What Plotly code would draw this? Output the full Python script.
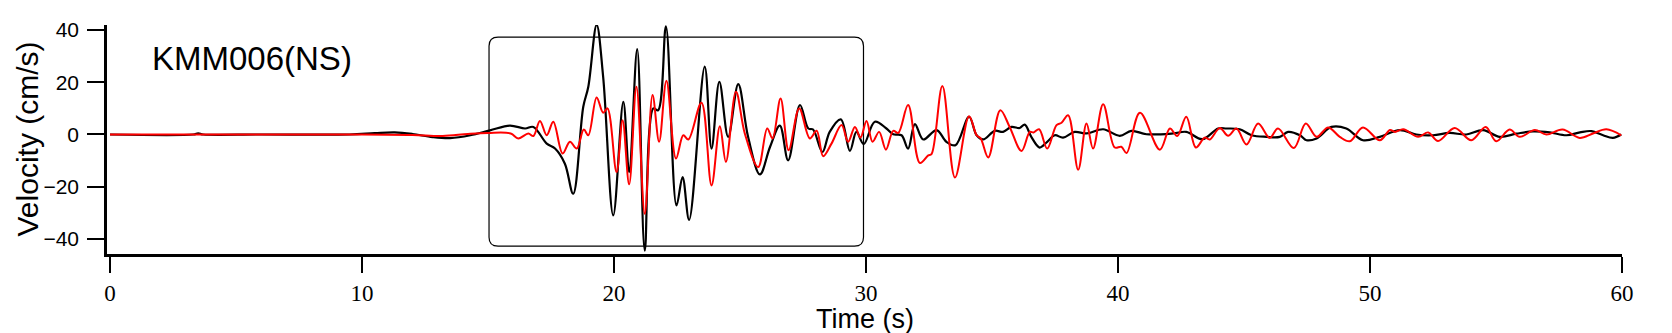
import plotly.graph_objects as go

# ---- data ----
ns_t = [0, 3.3, 3.5, 3.7, 6, 9.5, 10.5, 11.3, 12, 12.8, 13.5, 14.3, 15.08, 15.87, 16.47, 16.8,
        17.33, 17.66, 18.05, 18.38, 18.78, 18.98, 19.31, 19.57, 19.97, 20.37, 20.6, 20.92, 21.22,
        21.56, 21.75, 22.06, 22.48, 22.72, 22.98, 23.6, 23.87, 24.18, 24.53, 24.93, 25.32, 25.79,
        26.19, 26.58, 26.91, 27.38, 27.71, 27.9, 28.27, 28.56, 29.0, 29.36, 29.62, 29.91, 30.35,
        30.81, 31.08, 31.41, 31.67, 31.94, 32.27, 32.8, 33.19, 33.55, 34.09, 34.39, 34.65, 35.11,
        35.44, 35.77, 36.1, 36.3, 36.56, 36.89, 37.19, 37.49, 37.82, 38.28, 38.75, 39.41, 40.07,
        40.53, 41.13, 42.19, 42.71, 43.35, 43.97, 44.3, 44.83, 45.3, 45.89, 46.42, 46.75, 47.22,
        47.48, 47.88, 48.47, 49.06, 49.72, 50.39, 51.18, 51.84, 52.5, 53.16, 53.82, 54.49, 55.15,
        55.81, 56.47, 57.13, 57.8, 58.33, 58.79, 59.25, 59.64, 59.97]
ns_v = [0, 0, 0.4, 0, 0, 0, 0.5, 0.8, 0.2, -1.0, -1.4, -0.3, 1.6, 3.4, 2.3, 2.9,
        -3.5, -5.4, -11.2, -22.7, 10.6, 18.3, 42, 22, -31, 12.5, -14.4, 32.7, -44.5,
        10, 9.3, 41.4, -27.2, -16.3, -32.7, 26, -5.4, 20.2, -0.9, 19.3, -0.9, -15.3,
        -4.8, 3.4, -9.9, 11.3, 2.3, 1.9, -6.7, 1, 5.8, -6.3, 1, -3.7, 4.9,
        2.3, 0.1, -0.3, -5.4, 4, -1.9, 1.7, -2.8, -4.1, 6.8, -0.3, -1.9, 1.4,
        1, 2.9, 2.5, 3.8, -0.9, -5, -2.8, -0.3, -1.2, 1, 0.4, 2, -0.5,
        1.4, 0.1, 0.4, 1, -1.8, 2.3, 2.3, 2, -0.3, -0.9, -0.9, 1, -0.3,
        -2.2, -1.5, 2.9, 2.3, -2.2, -0.9, 1.7, 0, -0.3, 0.6, 0, 1.7, -0.9,
        0.3, 1.2, 0.8, -0.3, 0.8, 1.3, -0.3, -1.3, 0]

sim_t = [0, 6, 10, 12, 13.2, 14.2, 15, 15.9, 16.2, 16.6, 16.8, 17.06, 17.33, 17.59, 17.96,
         18.25, 18.52, 18.8, 18.98, 19.31, 19.57, 19.74, 20.1, 20.34, 20.6, 20.89, 21.22, 21.53,
         21.79, 22.08, 22.46, 22.75, 22.95, 23.47, 23.87, 24.2, 24.44, 24.84, 25.19, 25.72, 26.08,
         26.29, 26.61, 26.93, 27.35, 27.77, 28.04, 28.3, 28.63, 29.03, 29.29, 29.56, 29.78, 30.02,
         30.26, 30.52, 30.79, 31.08, 31.28, 31.67, 32.14, 32.47, 32.6, 33.03, 33.53, 34.09, 34.39,
         34.55, 34.85, 35.33, 35.7, 36.17, 36.5, 36.65, 36.87, 37.19, 37.56, 37.76, 38.02, 38.42,
         38.75, 39.01, 39.41, 39.87, 40.13, 40.34, 40.87, 41.66, 42.06, 42.35, 42.71, 43.09, 43.44,
         43.64, 44.04, 44.37, 44.7, 45.1, 45.56, 46.02, 46.35, 46.98, 47.45, 47.88, 48.34, 48.8,
         49.2, 49.72, 50.39, 50.79, 50.99, 51.32, 51.91, 52.31, 52.7, 53.36, 54.02, 54.59, 55.01,
         55.54, 55.94, 56.54, 57.0, 57.64, 58.32, 58.85, 59.38, 59.97]
sim_v = [0, 0, 0, -0.2, -0.6, 0.2, 0.6, 0.4, -1.5, 0.4, -0.6, 5.2, -0.3, 4.9, -7.3,
         -2.8, -5.4, 1.9, -0.3, 14.2, 8.3, 10, -14.4, 5.5, -19.1, 18.3, -30.4, 15.1,
         -2.8, 20.6, -9.2, -0.3, -1.9, 12.2, -19.5, 3.2, -10.5, 16.4, 0.4, -12.5, 2.3,
         -1.5, 13.8, -6, 10, -1.5, 1.4, -8.3, -3.5, 3.6, -2.8, 2.9, -1.2, 5.2,
         -2.8, 1, -5.8, 1.4, 0.6, 11.3, -10.9, -8, -7.5, 18.6, -16.5, 7, -0.3,
         -1.5, -8.8, 9.3, 2.9, -6.3, 1, 0.8, 2, -5.4, 3.6, 4.5, 7.4, -13.5,
         4.2, -5.4, 11.6, -5, -4.7, -7.1, 8.3, -5.8, 2.3, -0.6, 6.8, -5, -1.2,
         -1.9, 2.5, -0.5, 2.3, -3.8, 4.2, -1.3, 2.3, -5.2, 4.2, -0.9, 2.7, -0.9,
         -2.6, 2.7, -2.2, 1.7, 1, 2, -0.9, 0.8, -2.5, 2.5, -2.2, 2.9, -2.6,
         1.9, -0.9, 1.7, 0, 1.9, -1.3, 0.4, 2, -0.3]

x_ticks = [0, 10, 20, 30, 40, 50, 60]
y_ticks = [-40, -20, 0, 20, 40]
x_range = [-0.12, 60]
y_range = [-45.78, 41.94]
box_t = [15.04, 29.90]
box_v = [-42.8, 37.3]
station = "KMM006(NS)"

# page body has an 8px margin, so the figure is 8px smaller than the window
FIG_W, FIG_H = 1664, 325
M_L, M_R, M_T, M_B = 99, 50, 17, 79
plot_w = FIG_W - M_L - M_R
plot_h = FIG_H - M_T - M_B

# ---- figure ----
fig = go.Figure()
fig.add_trace(go.Scatter(x=ns_t, y=ns_v, mode="lines",
                         line=dict(color="black", width=2.2, shape="spline", smoothing=1.0),
                         showlegend=False))
fig.add_trace(go.Scatter(x=sim_t, y=sim_v, mode="lines",
                         line=dict(color="#ff0000", width=2, shape="spline", smoothing=1.0),
                         showlegend=False))

# rounded rectangle (corner radius ~9 px converted to data units)
px_per_t = plot_w / (x_range[1] - x_range[0])
px_per_v = plot_h / (y_range[1] - y_range[0])
rx = 9 / px_per_t
ry = 9 / px_per_v
x0, x1 = box_t
y0, y1 = box_v
path = (f"M {x0+rx},{y1} L {x1-rx},{y1} Q {x1},{y1} {x1},{y1-ry} "
        f"L {x1},{y0+ry} Q {x1},{y0} {x1-rx},{y0} L {x0+rx},{y0} "
        f"Q {x0},{y0} {x0},{y0+ry} L {x0},{y1-ry} Q {x0},{y1} {x0+rx},{y1} Z")
fig.add_shape(type="path", path=path, xref="x", yref="y",
              line=dict(color="black", width=1.2), fillcolor="rgba(0,0,0,0)", layer="below")

fig.update_layout(
    width=FIG_W, height=FIG_H,
    margin=dict(l=M_L, r=M_R, t=M_T, b=M_B, autoexpand=False),
    paper_bgcolor="white", plot_bgcolor="white",
    xaxis=dict(range=x_range, tickvals=x_ticks, ticks="outside", ticklen=16, tickwidth=2,
               tickcolor="black", showline=True, linecolor="black", linewidth=2.5,
               showgrid=False, zeroline=False, ticklabelstandoff=1, automargin=False,
               tickfont=dict(family="Liberation Serif", size=23, color="black")),
    yaxis=dict(range=y_range, tickvals=y_ticks, ticks="outside", ticklen=17, tickwidth=2,
               tickcolor="black", showline=True, linecolor="black", linewidth=2.5,
               showgrid=False, zeroline=False, ticklabelstandoff=4, automargin=False,
               tickfont=dict(family="Liberation Sans", size=21, color="black")),
    annotations=[
        dict(text=station, xref="paper", yref="paper", x=(142 - M_L) / plot_w,
             y=1 - (50 - M_T) / plot_h,
             xanchor="left", yanchor="middle", showarrow=False,
             font=dict(family="Liberation Sans", size=33, color="black")),
        dict(text="Velocity (cm/s)", xref="paper", yref="paper", x=0, y=0.5, xshift=-80, yshift=0,
             xanchor="center", yanchor="middle", textangle=-90, showarrow=False,
             font=dict(family="Liberation Sans", size=30, color="black")),
        dict(text="Time (s)", xref="paper", yref="paper", x=0.5, y=0, yshift=-65,
             xanchor="center", yanchor="middle", showarrow=False,
             font=dict(family="Liberation Sans", size=27, color="black")),
    ],
)

fig.write_html("out.html")
